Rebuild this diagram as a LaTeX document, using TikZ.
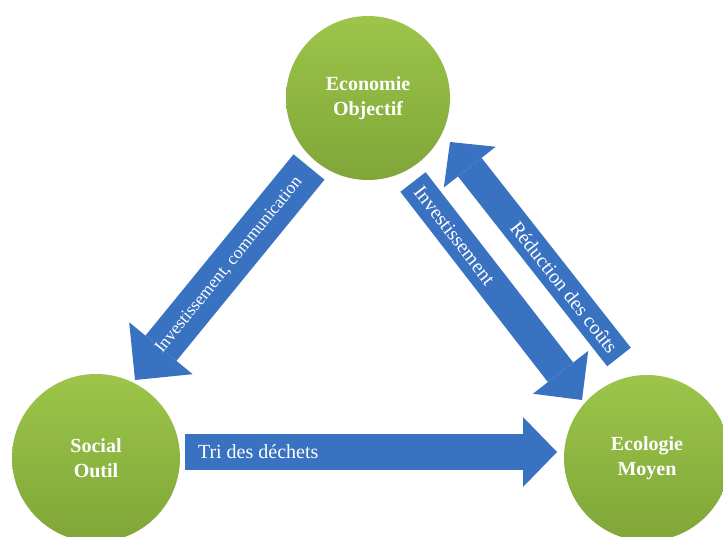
\documentclass[tikz,border=0pt]{standalone}
\usepackage{fontspec}
\setmainfont{Liberation Serif}
\usetikzlibrary{arrows.meta,calc}
\definecolor{leafhi}{HTML}{9CC54A}
\definecolor{leaflo}{HTML}{7FA638}
\definecolor{flow}{HTML}{3A72C2}
\tikzset{
  pillar/.style={circle, minimum size=164pt, inner sep=0pt, draw=none,
    top color=leafhi, bottom color=leaflo, text=white, align=center,
    font=\bfseries\fontsize{20}{25}\selectfont},
  flowarrow/.style n args={3}{draw=flow, line width=#1,
    -{Triangle[width=#2, length=#3, line width=0pt]}},
  flowtext/.style={text=white, sloped, inner sep=0pt, outer sep=0pt,
    font=\fontsize{20}{24}\selectfont},
}
\begin{document}
\begin{tikzpicture}[x=1pt,y=-1pt]
\useasboundingbox (0,0) rectangle (723,537);

% the three pillars
\node[pillar] (eco) at (368,98) {Economie\\Objectif};
\node[pillar, minimum size=168pt] (soc) at (96,458) {Social\\Outil};
\node[pillar, minimum size=166pt] (ecol) at (647,458) {Ecologie\\Moyen};

% ends of the block arrows
\coordinate (a1s) at (309,167);
\coordinate (a1e) at (135,380);
\coordinate (a2s) at (413,182);
\coordinate (a2e) at (582,400);
\coordinate (a3s) at (619,357);
\coordinate (a3e) at (450,142);
\coordinate (a4s) at (185,452);
\coordinate (a4e) at (557,452);

% block arrows with their labels
\draw[flowarrow={40pt}{82pt}{41pt}] (a1s) -- (a1e)
  node[flowtext, pos=0.46, font=\fontsize{17.5}{20}\selectfont] {Investissement, communication};
\draw[flowarrow={32pt}{70pt}{35pt}] (a2s) -- (a2e)
  node[flowtext, pos=0.03, anchor=west] {Investissement};
\draw[flowarrow={30pt}{66pt}{32pt}] (a3s) -- (a3e)
  node[flowtext, pos=0.03, anchor=east] {Réduction des coûts};
\draw[flowarrow={36pt}{70pt}{34pt}] (a4s) -- (a4e)
  node[flowtext, pos=0.035, anchor=west] {Tri des déchets};
\end{tikzpicture}
\end{document}
